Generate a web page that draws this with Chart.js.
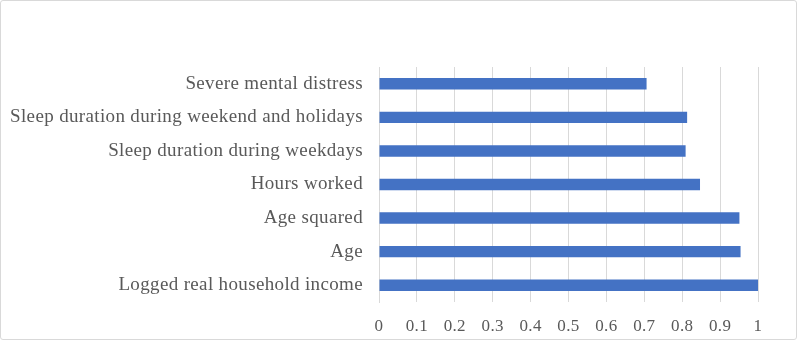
<!DOCTYPE html>
<html>
<head>
<meta charset="utf-8">
<script src="https://cdn.jsdelivr.net/npm/chart.js@4/dist/chart.umd.min.js"></script>
<style>
  html, body { margin: 0; padding: 0; background: #fff; }
  #wrap { position: relative; width: 797px; height: 340px; }
  #frame { position: absolute; left: 0; top: 0; width: 795px; height: 338px; border: 1px solid #d9d9d9; border-radius: 3px; pointer-events: none; }
</style>
</head>
<body>
<div id="wrap">
  <canvas id="importanceChart" width="797" height="340"></canvas>
  <div id="frame"></div>
</div>
<script>
// Variables, top to bottom as in the picture
const categories = [
  'Severe mental distress',
  'Sleep duration during weekend and holidays',
  'Sleep duration during weekdays',
  'Hours worked',
  'Age squared',
  'Age',
  'Logged real household income'
];
const importance = [0.706, 0.813, 0.809, 0.847, 0.951, 0.954, 1.0];
const xTicks = [0, 0.1, 0.2, 0.3, 0.4, 0.5, 0.6, 0.7, 0.8, 0.9, 1];

const textColor = '#595959';
const serif = "'Liberation Serif', 'Times New Roman', serif";

// the original text is set a little loose
const looseText = {
  id: 'looseText',
  beforeDraw(chart) { chart.ctx.letterSpacing = '0.35px'; }
};

const ctx = document.getElementById('importanceChart').getContext('2d');
const importanceChart = new Chart(ctx, {
  type: 'bar',
  data: {
    labels: categories,
    datasets: [{
      data: importance,
      backgroundColor: '#4472c4',
      borderWidth: 0,
      categoryPercentage: 1,
      barPercentage: 0.34
    }]
  },
  options: {
    indexAxis: 'y',
    responsive: false,
    animation: false,
    layout: { padding: { top: 67, right: 39, bottom: 0, left: 0 } },
    plugins: {
      legend: { display: false },
      tooltip: { enabled: false }
    },
    scales: {
      x: {
        min: 0,
        max: 1,
        afterBuildTicks: scale => { scale.ticks = xTicks.map(v => ({ value: v })); },
        afterFit: scale => { scale.height = 38; },
        grid: { color: '#d9d9d9', drawTicks: false },
        border: { display: false },
        ticks: {
          color: textColor,
          padding: 14,
          maxRotation: 0,
          font: { family: serif, size: 17 },
          callback: v => String(v)
        }
      },
      y: {
        afterFit: scale => { scale.width = 379; },
        grid: { display: false, drawTicks: false },
        border: { color: '#d9d9d9' },
        ticks: {
          color: textColor,
          padding: 16,
          font: { family: serif, size: 19 }
        }
      }
    }
  },
  plugins: [looseText]
});
</script>
</body>
</html>
